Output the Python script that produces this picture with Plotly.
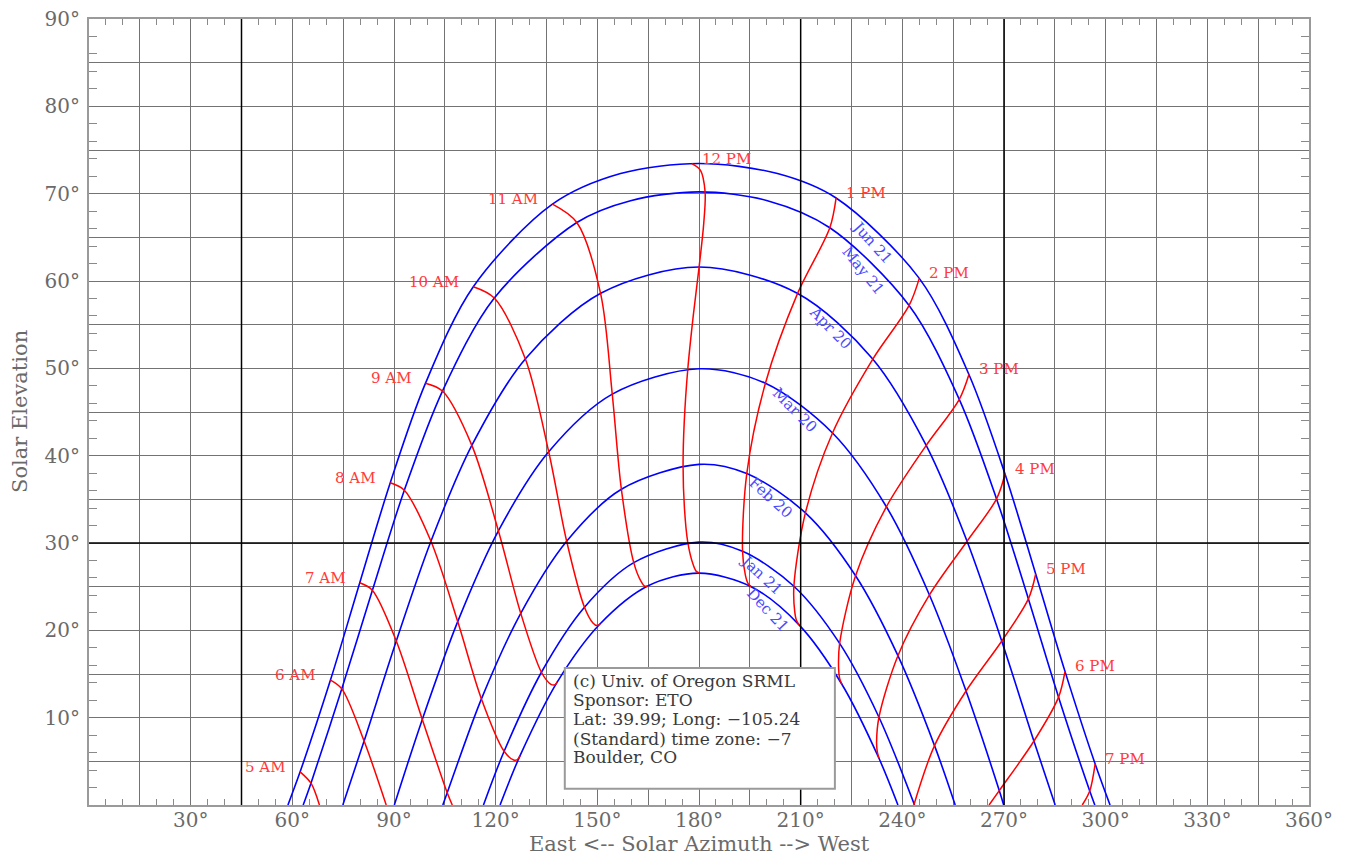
import plotly.graph_objects as go

# ---------------- data: daily sun paths (azimuth deg, elevation deg), sunrise -> sunset ----------------
JUN21_AZ = [58.7, 62.3, 71.25, 79.9, 88.9, 99.3, 113.4, 136.75, 156.85, 180.0, 203.15, 220.45, 245.0, 259.65, 270.3, 279.35, 288.0, 296.9, 301.3]
JUN21_EL = [0.0, 3.8, 14.3, 25.45, 36.9, 48.3, 59.35, 68.8, 72.3, 73.45, 72.3, 69.5, 60.3, 49.3, 37.9, 26.45, 15.3, 4.7, 0.0]

MAY21_AZ = [63.2, 65.5, 74.6, 83.6, 93.05, 104.3, 119.6, 143.95, 159.8, 180.0, 200.2, 218.6, 242.0, 256.8, 267.8, 277.2, 286.1, 295.3, 296.8]
MAY21_EL = [0.0, 2.5, 13.3, 24.55, 36.05, 47.4, 58.05, 66.7, 69.2, 70.2, 69.2, 66.1, 57.2, 46.45, 35.05, 23.6, 12.35, 1.6, 0.0]

APR20_AZ = [74.9, 81.2, 90.7, 100.9, 113.0, 128.8, 151.0, 180.0, 209.0, 231.2, 247.0, 259.1, 269.3, 278.8, 285.1]
APR20_EL = [0.0, 7.35, 18.8, 30.2, 41.2, 51.1, 58.6, 61.6, 58.6, 51.1, 41.2, 30.2, 18.8, 7.35, 0.0]

MAR20_AZ = [90.1, 98.35, 108.8, 120.8, 135.65, 154.4, 180.0, 199.6, 219.4, 235.3, 248.0, 258.8, 268.6, 269.9]
MAR20_EL = [0.0, 9.8, 21.0, 31.4, 40.45, 47.05, 49.95, 48.3, 42.6, 34.15, 24.05, 13.05, 1.65, 0.0]

FEB20_AZ = [104.4, 105.7, 115.8, 127.4, 140.95, 157.1, 180.0, 194.1, 211.4, 226.2, 238.7, 249.5, 255.6]
FEB20_EL = [0.0, 1.4, 12.15, 21.95, 30.2, 36.15, 39.0, 37.95, 33.45, 26.25, 17.1, 6.8, 0.0]

JAN21_AZ = [116.4, 122.5, 133.5, 146.2, 160.75, 180.0, 192.85, 208.0, 221.5, 233.1, 243.6]
JAN21_EL = [0.0, 6.15, 15.2, 22.65, 27.75, 30.1, 29.05, 25.05, 18.5, 10.05, 0.0]

DEC21_AZ = [121.3, 127.2, 138.2, 150.85, 165.0, 180.0, 195.4, 209.6, 222.2, 233.1, 238.7]
DEC21_EL = [0.0, 5.65, 14.1, 20.75, 25.1, 26.55, 25.0, 20.6, 13.8, 5.35, 0.0]

DATE_LABELS = ["Jun 21", "May 21", "Apr 20", "Mar 20", "Feb 20", "Jan 21", "Dec 21"]

# ---------------- data: hour lines (Jun 21 -> Dec 21) ----------------
H05_AZ = [62.3, 65.5, 68.0]
H05_EL = [3.8, 2.5, 0.0]
H06_AZ = [71.25, 74.6, 81.2, 87.7]
H06_EL = [14.3, 13.3, 7.3, 0.0]
H07_AZ = [79.9, 83.6, 90.7, 98.35, 105.7, 107.2]
H07_EL = [25.45, 24.6, 18.75, 9.8, 1.4, 0.0]
H08_AZ = [88.9, 93.05, 100.9, 108.8, 115.8, 122.5, 125.3, 126.4, 127.2]
H08_EL = [36.9, 36.05, 30.2, 21.0, 12.15, 6.15, 5.15, 5.2, 5.65]
H09_AZ = [99.3, 104.3, 113.0, 120.8, 127.4, 133.5, 136.2, 137.4, 138.2]
H09_EL = [48.3, 47.4, 41.15, 31.4, 21.95, 15.2, 13.85, 13.75, 14.1]
H10_AZ = [113.4, 119.6, 128.8, 135.65, 140.95, 146.2, 148.7, 149.9, 150.85]
H10_EL = [59.35, 58.05, 51.05, 40.45, 30.2, 22.65, 20.85, 20.55, 20.75]
H11_AZ = [136.75, 143.95, 151.0, 154.4, 157.1, 160.75, 162.9, 164.0, 165.0]
H11_EL = [68.8, 66.7, 58.5, 47.05, 36.15, 27.75, 25.6, 25.05, 25.1]
H12_AZ = [177.9, 180.4, 181.8, 181.4, 180.0, 178.3, 176.7, 175.65, 175.3, 175.7, 176.7, 178.3, 179.2, 180.25]
H12_EL = [73.45, 72.7, 70.2, 66.6, 61.5, 56.0, 49.95, 43.9, 38.9, 34.0, 30.05, 27.5, 26.75, 26.55]
H13_AZ = [220.45, 218.6, 209.0, 199.6, 194.1, 192.85, 193.7, 194.5, 195.4]
H13_EL = [69.5, 66.1, 58.5, 48.3, 37.95, 29.05, 26.3, 25.35, 25.0]
H14_AZ = [245.0, 242.0, 231.2, 219.4, 211.4, 208.0, 208.25, 208.8, 209.6]
H14_EL = [60.3, 57.2, 51.0, 42.6, 33.45, 25.05, 22.15, 21.1, 20.6]
H15_AZ = [259.65, 256.8, 247.0, 235.3, 226.2, 221.5, 221.2, 221.5, 222.2]
H15_EL = [49.3, 46.45, 41.15, 34.15, 26.25, 18.5, 15.6, 14.5, 13.8]
H16_AZ = [270.3, 267.8, 259.1, 248.0, 238.7, 233.1, 232.4, 232.6, 233.1]
H16_EL = [37.9, 35.05, 30.2, 24.05, 17.1, 10.05, 7.2, 6.1, 5.35]
H17_AZ = [279.35, 277.2, 269.3, 258.8, 249.5, 243.4]
H17_EL = [26.45, 23.6, 18.75, 13.05, 6.8, 0.0]
H18_AZ = [288.0, 286.1, 278.8, 268.6, 265.6]
H18_EL = [15.3, 12.35, 7.3, 1.65, 0.0]
H19_AZ = [296.9, 295.3, 293.1]
H19_EL = [4.7, 1.6, 0.0]

HOUR_LABELS = ["5 AM", "6 AM", "7 AM", "8 AM", "9 AM", "10 AM", "11 AM", "12 PM",
               "1 PM", "2 PM", "3 PM", "4 PM", "5 PM", "6 PM", "7 PM"]

X_LABEL_TICKS = [30, 60, 90, 120, 150, 180, 210, 240, 270, 300, 330, 360]
Y_LABEL_TICKS = [10, 20, 30, 40, 50, 60, 70, 80, 90]

INFO_LINES = ["(c) Univ. of Oregon SRML", "Sponsor: ETO", "Lat: 39.99; Long: \u2212105.24",
              "(Standard) time zone: \u22127", "Boulder, CO"]

# ---------------- figure ----------------
SERIF = "DejaVu Serif"
BLUE = "#0000ff"
RED = "#ff0000"
GRID = "#737373"
AXIS_TEXT = "#6a6a6a"

fig = go.Figure()

date_curves = [(JUN21_AZ, JUN21_EL), (MAY21_AZ, MAY21_EL), (APR20_AZ, APR20_EL), (MAR20_AZ, MAR20_EL),
               (FEB20_AZ, FEB20_EL), (JAN21_AZ, JAN21_EL), (DEC21_AZ, DEC21_EL)]
for (az, el), name in zip(date_curves, DATE_LABELS):
    fig.add_trace(go.Scatter(x=az, y=el, mode="lines", name=name,
                             line=dict(color=BLUE, width=1.6, shape="spline", smoothing=0.9),
                             hoverinfo="skip", showlegend=False))

hour_curves = [(H05_AZ, H05_EL), (H06_AZ, H06_EL), (H07_AZ, H07_EL), (H08_AZ, H08_EL), (H09_AZ, H09_EL),
               (H10_AZ, H10_EL), (H11_AZ, H11_EL), (H12_AZ, H12_EL), (H13_AZ, H13_EL), (H14_AZ, H14_EL),
               (H15_AZ, H15_EL), (H16_AZ, H16_EL), (H17_AZ, H17_EL), (H18_AZ, H18_EL), (H19_AZ, H19_EL)]
for (az, el), name in zip(hour_curves, HOUR_LABELS):
    fig.add_trace(go.Scatter(x=az, y=el, mode="lines", name=name,
                             line=dict(color=RED, width=1.5, shape="spline", smoothing=0.9),
                             hoverinfo="skip", showlegend=False))

# invisible trace carrying the labelled overlay axes
fig.add_trace(go.Scatter(x=[0, 360], y=[0, 90], xaxis="x2", yaxis="y2", mode="none",
                         hoverinfo="skip", showlegend=False))

annotations = []
# hour labels at the Jun 21 end of each hour line
for (az, el), name in zip(hour_curves, HOUR_LABELS):
    is_am = name.endswith("AM")
    annotations.append(dict(x=az[0], y=el[0], text=name, showarrow=False,
                            xanchor="right" if is_am else "left", yanchor="middle",
                            xshift=-12 if is_am else 8, yshift=5,
                            font=dict(family=SERIF, size=15, color="#ff3b3b")))

# date labels along the curves
DATE_LABEL_POS = [(231.1, 64.5, 48), (228.6, 61.2, 51), (218.8, 54.6, 46), (208.2, 45.2, 45),
                  (201.3, 35.2, 42), (198.4, 26.3, 43), (200.3, 22.3, 47)]
for name, (x, y, ang) in zip(DATE_LABELS, DATE_LABEL_POS):
    annotations.append(dict(x=x, y=y, text=name, showarrow=False, textangle=ang,
                            xanchor="center", yanchor="middle",
                            font=dict(family=SERIF, size=15, color="#4a4aff")))

# info box text
info_y = [14.25, 12.05, 9.87, 7.6, 5.45]
for line, y in zip(INFO_LINES, info_y):
    annotations.append(dict(x=142.3, y=y, text=line, showarrow=False, xanchor="left", yanchor="middle",
                            font=dict(family=SERIF, size=17, color="#3a3a3a")))

# axis titles
annotations.append(dict(xref="paper", yref="paper", x=0.5, y=0, yshift=-53, xanchor="center", yanchor="bottom",
                        text="East &lt;-- Solar Azimuth --&gt; West", showarrow=False,
                        font=dict(family=SERIF, size=21, color=AXIS_TEXT)))
annotations.append(dict(xref="paper", yref="paper", x=0, y=0.5, xshift=-69, yshift=0, xanchor="center",
                        yanchor="middle", text="Solar Elevation", textangle=-90, showarrow=False,
                        font=dict(family=SERIF, size=21, color=AXIS_TEXT)))

shapes = []
# darker reference grid lines
for xv in (45, 210, 270):
    shapes.append(dict(type="line", xref="x", yref="paper", x0=xv, x1=xv, y0=0, y1=1,
                       line=dict(color="#000000", width=1.5), layer="above"))
shapes.append(dict(type="line", xref="paper", yref="y", x0=0, x1=1, y0=30, y1=30,
                   line=dict(color="#000000", width=1.5), layer="above"))
# info box (drawn last so it covers curves and dark lines)
shapes.append(dict(type="rect", xref="x", yref="y", x0=140.4, x1=220.1, y0=1.85, y1=15.69,
                   fillcolor="white", line=dict(color="#9a9a9a", width=2), layer="above"))

fig.update_layout(
    width=1350, height=859,
    margin=dict(l=89, r=41, t=19, b=54, autoexpand=False),
    paper_bgcolor="white", plot_bgcolor="white",
    showlegend=False,
    annotations=annotations,
    shapes=shapes,
    xaxis=dict(
        range=[0, 360], tickmode="linear", tick0=0, dtick=15, showticklabels=False,
        showgrid=True, gridcolor=GRID, gridwidth=1, zeroline=False, automargin=False,
        ticks="", showline=True, linecolor="#9a9a9a", linewidth=1.5, mirror="allticks",
        minor=dict(tickmode="linear", tick0=0, dtick=5, ticks="inside", ticklen=6,
                   tickcolor="#8a8a8a", tickwidth=1, showgrid=False),
    ),
    yaxis=dict(
        range=[0, 90], tickmode="linear", tick0=0, dtick=5, showticklabels=False,
        showgrid=True, gridcolor=GRID, gridwidth=1, zeroline=False, automargin=False,
        ticks="", showline=True, linecolor="#9a9a9a", linewidth=1.5, mirror="allticks",
        minor=dict(tickmode="linear", tick0=0, dtick=2, ticks="inside", ticklen=8,
                   tickcolor="#8a8a8a", tickwidth=1, showgrid=False),
    ),
    xaxis2=dict(
        overlaying="x", anchor="y", side="bottom", range=[0, 360], tickmode="array",
        tickvals=X_LABEL_TICKS, ticktext=[f"{v}\u00b0" for v in X_LABEL_TICKS],
        showgrid=False, zeroline=False, showline=False, ticks="", automargin=False,
        tickfont=dict(family=SERIF, size=20, color=AXIS_TEXT), ticklabelstandoff=1,
    ),
    yaxis2=dict(
        overlaying="y", anchor="x", side="left", range=[0, 90], tickmode="array",
        tickvals=Y_LABEL_TICKS, ticktext=[f"{v}\u00b0" for v in Y_LABEL_TICKS],
        showgrid=False, zeroline=False, showline=False, ticks="", automargin=False,
        tickfont=dict(family=SERIF, size=20, color=AXIS_TEXT), ticklabelstandoff=8,
    ),
)

fig.write_html("out.html", config={"displayModeBar": False},
               post_script="document.body.style.margin='0px';")
